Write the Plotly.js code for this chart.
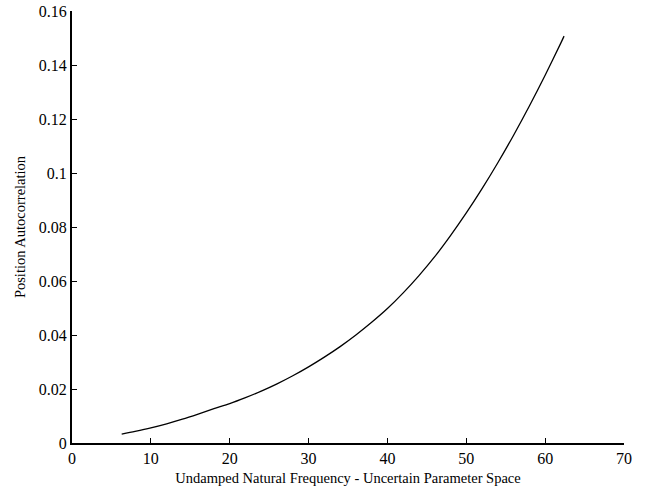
<!DOCTYPE html>
<html>
<head>
<meta charset="utf-8">
<script src="https://cdn.plot.ly/plotly-3.0.1.min.js"></script>
<style>html,body{margin:0;padding:0;background:#fff;}#chart{width:650px;height:493px;}</style>
</head>
<body>
<div id="chart"></div>
<script>
var frequency = [6.3, 8, 10, 12, 14, 16, 18, 20, 22, 24, 26, 28, 30, 32, 34, 36, 38, 40, 42, 44, 46, 48, 50, 52, 54, 56, 58, 60, 62, 62.4];
var autocorrelation = [0.0033, 0.0043, 0.0056, 0.0071, 0.0088, 0.0107, 0.0127, 0.0146, 0.0168, 0.0192, 0.0219, 0.0249, 0.0282, 0.0318, 0.0357, 0.0400, 0.0447, 0.0498, 0.0556, 0.0620, 0.0690, 0.0768, 0.0852, 0.0942, 0.1038, 0.1140, 0.1248, 0.1362, 0.1482, 0.1507];

var fontFam = '"Liberation Serif", "Times New Roman", serif';
var trace = {
  x: frequency, y: autocorrelation, mode: 'lines', type: 'scatter',
  line: {color: '#000', width: 1.3, shape: 'spline', smoothing: 0.8}, hoverinfo: 'none'
};
var layout = {
  width: 650, height: 493,
  margin: {l: 72, r: 26, t: 11, b: 50},
  paper_bgcolor: '#fff', plot_bgcolor: '#fff',
  showlegend: false,
  font: {family: fontFam, color: '#000', size: 16},
  xaxis: {
    range: [0, 70], dtick: 10, tick0: 0,
    showgrid: false, zeroline: false,
    showline: true, linecolor: '#000', linewidth: 2,
    ticks: 'inside', ticklen: 5, tickwidth: 1, tickcolor: '#000',
    tickfont: {family: fontFam, size: 16},
    title: {text: 'Undamped Natural Frequency - Uncertain Parameter Space', font: {family: fontFam, size: 14.5}, standoff: 7}
  },
  yaxis: {
    range: [0, 0.16], dtick: 0.02, tick0: 0,
    showgrid: false, zeroline: false,
    showline: true, linecolor: '#000', linewidth: 2,
    ticks: 'inside', ticklen: 5, tickwidth: 1, tickcolor: '#000',
    tickfont: {family: fontFam, size: 16},
    title: {text: 'Position Autocorrelation', font: {family: fontFam, size: 14.5}, standoff: 10}
  }
};
Plotly.newPlot('chart', [trace], layout, {staticPlot: true, displayModeBar: false});
</script>
</body>
</html>
